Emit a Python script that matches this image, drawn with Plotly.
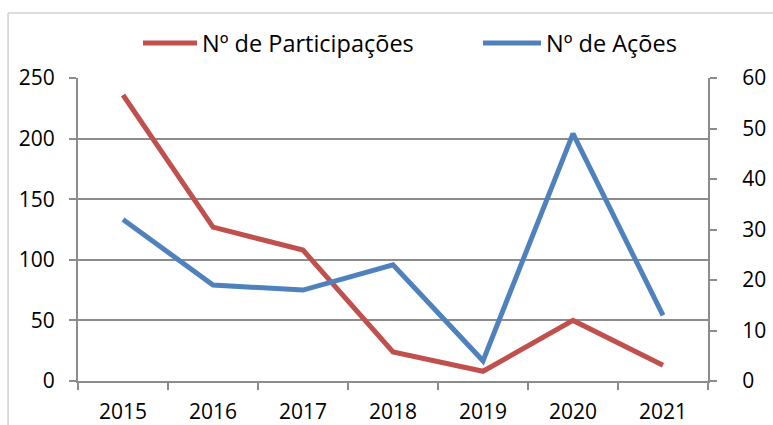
import plotly.graph_objects as go

years = ["2015", "2016", "2017", "2018", "2019", "2020", "2021"]
participacoes = [236, 127, 108, 24, 8, 50, 13]
acoes = [32, 19, 18, 23, 4, 49, 13]

RED = "#C0504D"
BLUE = "#4F81BD"
GRID = "#8C8C8C"
FONT = "Open Sans"

fig = go.Figure()
fig.add_trace(go.Scatter(x=years, y=participacoes, name="Nº de Participações",
                         mode="lines", line=dict(color=RED, width=5), yaxis="y",
                         legend="legend"))
fig.add_trace(go.Scatter(x=years, y=acoes, name="Nº de Ações",
                         mode="lines", line=dict(color=BLUE, width=5), yaxis="y2",
                         legend="legend2"))

leg_common = dict(orientation="h", y=1.115, yanchor="middle", xanchor="left",
                  font=dict(size=23.5), bgcolor="rgba(0,0,0,0)")

fig.update_layout(
    width=773, height=425,
    margin=dict(l=78, r=65, t=78, b=44, autoexpand=False),
    paper_bgcolor="white", plot_bgcolor="white",
    font=dict(family=FONT, size=21, color="black"),
    showlegend=True,
    legend=dict(x=(138 - 78) / 630, itemwidth=54, **leg_common),
    legend2=dict(x=(478 - 78) / 630, itemwidth=58, **leg_common),
    xaxis=dict(type="category", range=[-0.5, 6.5], showgrid=False,
               showline=True, linecolor=GRID, linewidth=2,
               ticks="outside", tickson="boundaries", ticklen=7, tickcolor=GRID, tickwidth=2,
               tickfont=dict(size=21), ticklabelstandoff=11),
    yaxis=dict(range=[0, 250], dtick=50, showgrid=True, gridcolor=GRID, gridwidth=2,
               zeroline=False, showline=True, linecolor=GRID, linewidth=2,
               ticks="outside", ticklen=7, tickcolor=GRID, tickwidth=2,
               tickfont=dict(size=21), ticklabelstandoff=10),
    yaxis2=dict(range=[0, 60], dtick=10, overlaying="y", side="right", showgrid=False,
                zeroline=False, showline=True, linecolor=GRID, linewidth=2,
                ticks="outside", ticklen=7, tickcolor=GRID, tickwidth=2,
                tickfont=dict(size=21), ticklabelstandoff=21),
    shapes=[
        dict(type="line", xref="paper", yref="paper", x0=-0.111, x1=-0.111, y0=-0.2, y1=1.2145,
             line=dict(color="#D0D0D0", width=1.5)),
        dict(type="line", xref="paper", yref="paper", x0=-0.111, x1=1.2, y0=1.2145, y1=1.2145,
             line=dict(color="#D0D0D0", width=1.5)),
    ],
)

fig.write_html("out.html", config={"displayModeBar": False},
               post_script="document.body.style.margin='0';document.body.style.overflow='hidden';")
